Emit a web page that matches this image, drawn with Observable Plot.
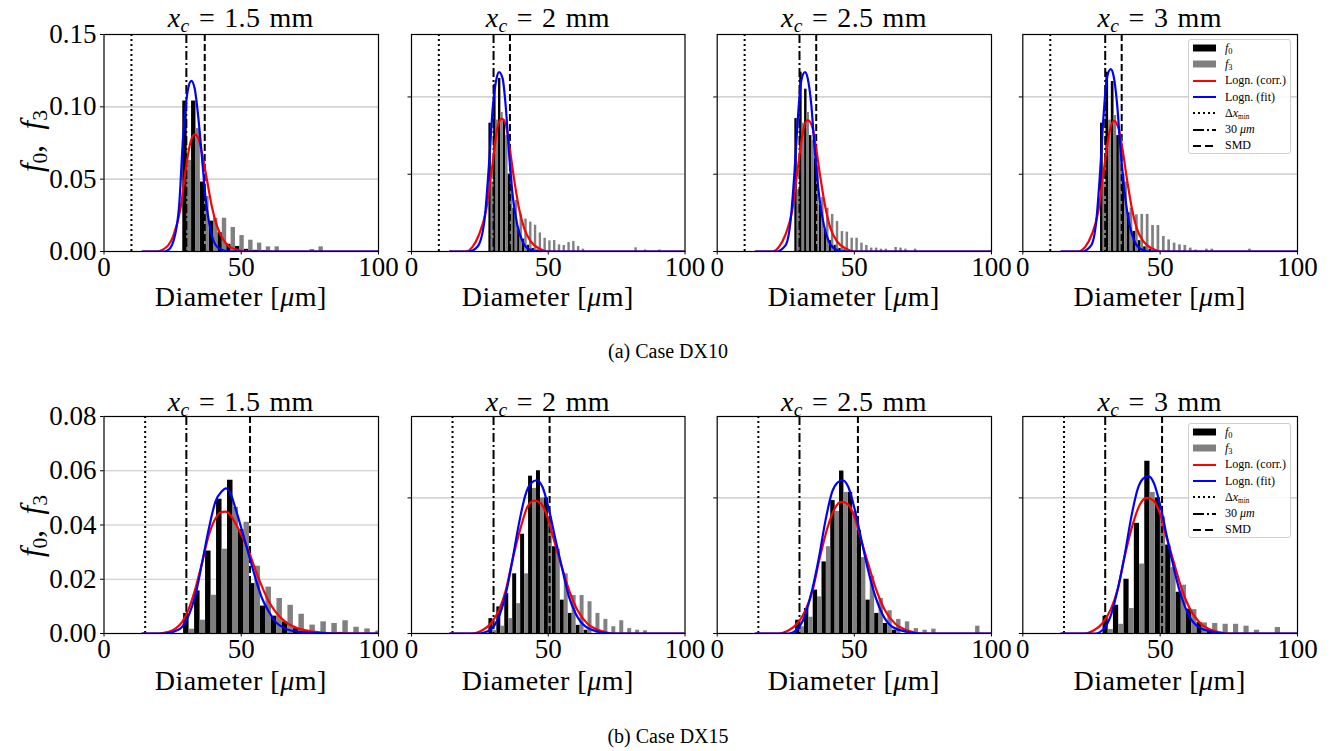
<!DOCTYPE html>
<html><head><meta charset="utf-8">
<script src="https://cdn.jsdelivr.net/npm/d3@7"></script>
<script src="https://cdn.jsdelivr.net/npm/@observablehq/plot@0.6"></script>
<style>
body{margin:0;background:#fff;}
#fig{position:relative;width:1336px;height:751px;overflow:hidden;background:#fff;font-family:"Liberation Serif","DejaVu Serif",serif;color:#000;}
.slice{position:absolute;overflow:visible;}
.slice svg{overflow:visible;display:block;}
.t{position:absolute;white-space:nowrap;line-height:0.85;transform:translateX(-50%);}
.t sub,.lg sub{font-size:0.7em;vertical-align:-0.25em;line-height:0;}
.ylab{position:absolute;white-space:nowrap;line-height:1;transform:translate(-50%,-50%) rotate(-90deg);font-size:31px;}
.ylab sub{font-size:0.7em;vertical-align:-0.25em;line-height:0;}
.lg{position:absolute;box-sizing:border-box;width:103px;height:115px;border:1px solid #cfcfcf;border-radius:3px;background:rgba(255,255,255,0.85);font-size:12px;padding-top:0px;}
.lg .row{display:flex;align-items:center;height:16.3px;}
.lg svg{margin-left:4px;flex:none;}
.lg span{margin-left:9px;white-space:nowrap;}
</style></head><body><div id="fig"></div>
<script>
// ---------------- data ----------------
const xcValues = ["1.5", "2", "2.5", "3"];
const caseCaptions = ["(a) Case DX10", "(b) Case DX15"];
const dxMin = [10, 15];            // Δx_min of each case [μm]
const cutoff = 30;                 // 30 μm line
const smdDX10 = [36.7, 36.0, 36.1, 36.0];
const smdDX15 = [53.2, 50.5, 51.3, 50.7];

// histogram bin widths and left edges (μm); f0 drawn in left half, f3 in right half
const binWidthDX10 = [3.2, 1.75, 1.78, 1.96];
const binWidthDX15 = [4.0, 2.9, 3.2, 3.8];
const binStartDX10 = [28.7, 28.3, 28.3, 28.3];
const binStartDX15 = [29.0, 28.3, 28.6, 29.2];

// Case DX10 histogram values
const f0DX10_1 = [0.104, 0.104, 0.048, 0.021, 0.013, 0.005, 0.0035, 0.0015, 0.0008, 0.0005];
const f3DX10_1 = [0.063, 0.085, 0.038, 0.023, 0.023, 0.0166, 0.011, 0.0078, 0.0058, 0.0032, 0.0032, 0, 0, 0, 0.0014, 0.0032];
const f0DX10_2 = [0.083, 0.108, 0.112, 0.085, 0.05, 0.028, 0.014, 0.008, 0.004, 0.002, 0.001];
const f3DX10_2 = [0.045, 0.085, 0.09, 0.075, 0.055, 0.033, 0.024, 0.021, 0.019, 0.017, 0.012, 0.0086, 0.0069, 0.0071, 0.0043, 0.0039, 0.0058, 0.0065, 0.0032, 0.0015, 0, 0, 0, 0, 0, 0, 0, 0, 0, 0, 0.0024, 0, 0.001, 0, 0, 0.001];
const f0DX10_3 = [0.086, 0.116, 0.105, 0.075, 0.06, 0.03, 0.014, 0.007, 0.004, 0.002, 0.001];
const f3DX10_3 = [0.04, 0.083, 0.09, 0.072, 0.055, 0.035, 0.028, 0.024, 0.0194, 0.0129, 0.0125, 0.0086, 0.0086, 0.0054, 0.0039, 0.0022, 0.0022, 0.0015, 0.0015, 0, 0.0026, 0.0022, 0.0015, 0, 0.0015];
const f0DX10_4 = [0.083, 0.116, 0.110, 0.075, 0.05, 0.025, 0.013, 0.007, 0.003, 0.0015, 0.001];
const f3DX10_4 = [0.045, 0.085, 0.088, 0.07, 0.045, 0.028, 0.0237, 0.024, 0.024, 0.0168, 0.0168, 0.0097, 0.0075, 0.0054, 0.0043, 0.0039, 0.0022, 0.001, 0, 0.0015, 0.0015, 0, 0, 0, 0, 0, 0, 0.0015];

// Case DX15 histogram values
const f0DX15_1 = [0.0074, 0.0157, 0.0304, 0.0495, 0.0565, 0.0383, 0.0184, 0.0101, 0.0064, 0.0043, 0.0018, 0.0008, 0.0004, 0.0002, 0.0004];
const f3DX15_1 = [0.0016, 0.0049, 0.0141, 0.0311, 0.0465, 0.041, 0.0248, 0.0171, 0.0129, 0.0104, 0.0071, 0.0031, 0.0043, 0.0037, 0.0047, 0.0023, 0.0017, 0.0009];
const f0DX15_2 = [0.0055, 0.0098, 0.0147, 0.022, 0.0366, 0.058, 0.060, 0.050, 0.032, 0.0123, 0.0074, 0.003, 0.0012];
const f3DX15_2 = [0.0012, 0.0027, 0.0055, 0.011, 0.022, 0.0535, 0.05, 0.043, 0.031, 0.022, 0.014, 0.014, 0.0117, 0.0074, 0.0052, 0.0025, 0.0047, 0.0018, 0.0012, 0.001];
const f0DX15_3 = [0.0049, 0.0092, 0.016, 0.0264, 0.049, 0.0599, 0.052, 0.038, 0.0123, 0.0074, 0.0037, 0.0012];
const f3DX15_3 = [0.0025, 0.006, 0.0135, 0.032, 0.045, 0.052, 0.045, 0.028, 0.021, 0.0129, 0.0084, 0.0052, 0.0043, 0.0018, 0.0012, 0.0016, 0, 0, 0, 0, 0.0027];
const f0DX15_4 = [0.0064, 0.0104, 0.020, 0.0406, 0.0635, 0.050, 0.0326, 0.0152, 0.009, 0.004, 0.0015, 0.0005];
const f3DX15_4 = [0.0015, 0.0034, 0.0092, 0.0256, 0.052, 0.043, 0.0243, 0.0178, 0.0088, 0.0039, 0.0037, 0.0034, 0.0034, 0.0027, 0.0012, 0, 0.0022];

// Lognormal curves (corr. = red, fit = blue)
const fitXDX10_1 = [14, 22, 23, 24.8, 27.3, 28.8, 30.5, 31.8, 33.0, 34.5, 35.8, 37.0, 38.2, 40.0, 42.4, 46, 100];
const fitYDX10_1 = [0, 0, 0.0005, 0.0046, 0.030, 0.0787, 0.111, 0.118, 0.113, 0.090, 0.0625, 0.037, 0.021, 0.007, 0.0016, 0, 0];
const corrXDX10_1 = [14, 19, 23, 25.4, 27.9, 29.7, 31.3, 33.0, 34.3, 35.8, 37.6, 39.4, 41.2, 43.1, 45.5, 48.5, 52, 100];
const corrYDX10_1 = [0, 0, 0.0035, 0.0116, 0.030, 0.0556, 0.074, 0.081, 0.0787, 0.067, 0.0486, 0.030, 0.0174, 0.0093, 0.0035, 0.0012, 0, 0];
const fitXDX10_2 = [14, 21, 24.1, 26.6, 28.4, 29.8, 31.1, 32.0, 33.3, 34.5, 35.7, 37.1, 38.7, 40.6, 43.0, 46.6, 100];
const fitYDX10_2 = [0, 0, 0.003, 0.019, 0.058, 0.095, 0.112, 0.116, 0.112, 0.093, 0.0625, 0.0345, 0.017, 0.0065, 0.0015, 0, 0];
const corrXDX10_2 = [14, 19.9, 22.3, 24.7, 27.2, 29.6, 31.4, 33.0, 34.5, 35.9, 37.5, 39.3, 41.2, 43.6, 46.6, 50.3, 100];
const corrYDX10_2 = [0, 0, 0.003, 0.011, 0.026, 0.056, 0.080, 0.086, 0.082, 0.067, 0.047, 0.028, 0.015, 0.0065, 0.002, 0, 0];
const fitXDX10_3 = [14, 21.5, 24.9, 26.7, 28.2, 29.4, 30.6, 32.0, 33.0, 34.3, 35.5, 37.1, 38.9, 40.7, 43.1, 46.2, 100];
const fitYDX10_3 = [0, 0, 0.004, 0.019, 0.052, 0.086, 0.110, 0.116, 0.112, 0.095, 0.067, 0.037, 0.017, 0.0065, 0.0015, 0, 0];
const corrXDX10_3 = [14, 20, 22.5, 24.9, 27.3, 29.4, 31.3, 33.0, 34.6, 36.2, 37.7, 39.5, 41.3, 43.7, 46.8, 50.4, 100];
const corrYDX10_3 = [0, 0, 0.003, 0.011, 0.026, 0.054, 0.078, 0.085, 0.081, 0.065, 0.047, 0.028, 0.015, 0.0065, 0.002, 0, 0];
const fitXDX10_4 = [14, 21.5, 24.9, 26.7, 28.2, 29.4, 30.6, 32.0, 33.0, 34.3, 35.5, 37.1, 38.9, 40.7, 43.1, 46.2, 100];
const fitYDX10_4 = [0, 0, 0.004, 0.019, 0.053, 0.088, 0.112, 0.118, 0.114, 0.096, 0.068, 0.038, 0.017, 0.0065, 0.0015, 0, 0];
const corrXDX10_4 = [14, 20, 22.7, 25.1, 27.5, 29.6, 31.5, 33.2, 34.8, 36.4, 37.9, 39.7, 41.5, 43.9, 47.0, 50.6, 100];
const corrYDX10_4 = [0, 0, 0.003, 0.011, 0.026, 0.054, 0.077, 0.0845, 0.080, 0.065, 0.047, 0.028, 0.015, 0.0065, 0.002, 0, 0];

const fitXDX15_1 = [14, 22, 26.0, 28.5, 30.9, 33.3, 35.8, 38.2, 40.6, 43.0, 44.3, 46.1, 47.9, 50.4, 52.8, 55.2, 57.6, 60.1, 62.5, 66.1, 71, 77, 85, 100];
const fitYDX15_1 = [0, 0, 0.0009, 0.0025, 0.0068, 0.0141, 0.0264, 0.0387, 0.0486, 0.0525, 0.0535, 0.0516, 0.0461, 0.0375, 0.0289, 0.0203, 0.0129, 0.008, 0.0043, 0.0018, 0.0006, 0.0002, 0, 0];
const corrXDX15_1 = [14, 20, 23, 26.0, 28.5, 30.9, 33.3, 35.8, 38.2, 40.6, 42.4, 44.3, 46.1, 47.9, 50.4, 52.8, 55.2, 57.6, 60.1, 62.5, 66.1, 71, 77, 83, 100];
const corrYDX15_1 = [0, 0, 0.0005, 0.0018, 0.0043, 0.0092, 0.0166, 0.0264, 0.0363, 0.0424, 0.0446, 0.0449, 0.0436, 0.0406, 0.0357, 0.0301, 0.0234, 0.0172, 0.0117, 0.008, 0.0043, 0.0018, 0.0006, 0.0001, 0];
const fitXDX15_2 = [14, 24, 25.9, 29.0, 31.4, 34.5, 36.9, 39.3, 41.8, 43.6, 45.7, 47.9, 50.3, 52.7, 55.2, 57.6, 60.0, 63.7, 68.6, 73.4, 100];
const fitYDX15_2 = [0, 0, 0.0002, 0.0015, 0.0049, 0.0147, 0.027, 0.0406, 0.0516, 0.0553, 0.0565, 0.054, 0.0455, 0.0344, 0.0234, 0.0135, 0.0074, 0.0025, 0.0006, 0, 0];
const corrXDX15_2 = [14, 22.3, 25.9, 29.0, 32.0, 34.5, 36.9, 40.0, 42.4, 44.8, 47.3, 49.7, 52.1, 54.6, 57.6, 60.7, 64.3, 68.6, 74.7, 100];
const corrYDX15_2 = [0, 0, 0.0012, 0.0037, 0.0086, 0.016, 0.027, 0.0393, 0.0467, 0.049, 0.048, 0.043, 0.0344, 0.0258, 0.016, 0.0086, 0.0037, 0.0012, 0, 0];
const fitXDX15_3 = [14, 24, 26.1, 29.4, 31.8, 34.6, 37.1, 39.5, 41.9, 43.7, 45.7, 47.8, 50.2, 52.6, 55.0, 57.7, 60.1, 63.8, 69.3, 74.1, 100];
const fitYDX15_3 = [0, 0, 0, 0.0018, 0.0061, 0.016, 0.028, 0.0418, 0.0522, 0.0555, 0.0565, 0.054, 0.0455, 0.0344, 0.0234, 0.0135, 0.0074, 0.0025, 0.0006, 0, 0];
const corrXDX15_3 = [14, 22.5, 26.1, 29.2, 32.2, 34.8, 37.2, 40.3, 42.8, 45.3, 47.8, 50.2, 52.6, 55.1, 58.1, 61.2, 64.8, 69.1, 75.2, 100];
const corrYDX15_3 = [0, 0, 0.0012, 0.0037, 0.0086, 0.016, 0.027, 0.0393, 0.046, 0.0485, 0.0475, 0.0425, 0.034, 0.0255, 0.0158, 0.0085, 0.0037, 0.0012, 0, 0];
const fitXDX15_4 = [14, 24, 26.3, 29.5, 31.9, 34.6, 37.1, 39.5, 41.9, 43.7, 45.7, 47.7, 50.1, 52.5, 55.0, 57.6, 60.0, 63.6, 69, 74, 100];
const fitYDX15_4 = [0, 0, 0, 0.0018, 0.0062, 0.0165, 0.029, 0.043, 0.0535, 0.057, 0.058, 0.0555, 0.047, 0.0355, 0.024, 0.014, 0.0076, 0.0026, 0.0006, 0, 0];
const corrXDX15_4 = [14, 22.5, 25.9, 29.0, 32.0, 34.6, 37.0, 40.1, 42.6, 45.1, 47.6, 50.0, 52.4, 54.9, 57.9, 61.0, 64.6, 68.9, 75, 100];
const corrYDX15_4 = [0, 0, 0.0012, 0.0038, 0.0089, 0.0165, 0.028, 0.0405, 0.0475, 0.050, 0.049, 0.044, 0.0352, 0.0265, 0.0163, 0.0088, 0.0038, 0.0012, 0, 0];

// axes
const xTicks = [0, 50, 100];
const yTicksDX10 = [[0, 0.05, 0.10, 0.15], [0, 0.05, 0.10], [0, 0.05, 0.10], [0, 0.05, 0.10]];
const yMaxDX10 = [0.15, 0.1404, 0.1404, 0.1404];
const yTicksDX15 = [[0, 0.02, 0.04, 0.06, 0.08], [0, 0.05], [0, 0.05], [0, 0.05]];
const yMaxDX15 = [0.08, 0.08, 0.08, 0.08];

// ---------------- layout ----------------
const FONT = '"Liberation Serif","DejaVu Serif",serif';
const slices = [ // image slice of each column: left, width, frame margins
  {left: 0, width: 397, ml: 103.5, mr: 19},
  {left: 397, width: 305, ml: 14, mr: 17.5},
  {left: 702, width: 306, ml: 14.7, mr: 17},
  {left: 1008, width: 328, ml: 14.3, mr: 39}
];
const MT = 20, MB = 37, FRAME_H = 217;
const SVG_H = MT + FRAME_H + MB;
const rowTop = [33.5 - MT, 416 - MT];

const rows = [
  {f0: [f0DX10_1, f0DX10_2, f0DX10_3, f0DX10_4], f3: [f3DX10_1, f3DX10_2, f3DX10_3, f3DX10_4],
   w: binWidthDX10, start: binStartDX10, smd: smdDX10, dx: dxMin[0], yTicks: yTicksDX10, yMax: yMaxDX10,
   fitX: [fitXDX10_1, fitXDX10_2, fitXDX10_3, fitXDX10_4], fitY: [fitYDX10_1, fitYDX10_2, fitYDX10_3, fitYDX10_4],
   corrX: [corrXDX10_1, corrXDX10_2, corrXDX10_3, corrXDX10_4], corrY: [corrYDX10_1, corrYDX10_2, corrYDX10_3, corrYDX10_4]},
  {f0: [f0DX15_1, f0DX15_2, f0DX15_3, f0DX15_4], f3: [f3DX15_1, f3DX15_2, f3DX15_3, f3DX15_4],
   w: binWidthDX15, start: binStartDX15, smd: smdDX15, dx: dxMin[1], yTicks: yTicksDX15, yMax: yMaxDX15,
   fitX: [fitXDX15_1, fitXDX15_2, fitXDX15_3, fitXDX15_4], fitY: [fitYDX15_1, fitYDX15_2, fitYDX15_3, fitYDX15_4],
   corrX: [corrXDX15_1, corrXDX15_2, corrXDX15_3, corrXDX15_4], corrY: [corrYDX15_1, corrYDX15_2, corrYDX15_3, corrYDX15_4]}
];

const fig = document.getElementById("fig");

function addText(html, cx, baseline, size, extraStyle = "") {
  const d = document.createElement("div");
  d.className = "t";
  d.innerHTML = html;
  d.style.cssText = extraStyle;
  d.style.fontSize = size + "px";
  d.style.left = cx + "px";
  d.style.top = (baseline - 0.7625 * size) + "px";
  fig.appendChild(d);
  return d;
}

rows.forEach((R, r) => {
  for (let c = 0; c < 4; c++) {
    const S = slices[c];
    const w = R.w[c], st = R.start[c];
    const n = Math.max(R.f0[c].length, R.f3[c].length);
    const bins = d3.range(n).map(i => st + i * w);
    const black = bins.map((e, i) => ({x1: e, x2: e + w / 2, v: R.f0[c][i] || 0})).filter(d => d.v > 0);
    const gray = bins.map((e, i) => ({x1: e + w / 2, x2: e + w, v: R.f3[c][i] || 0})).filter(d => d.v > 0);
    const fit = R.fitX[c].map((x, i) => ({x, y: R.fitY[c][i]}));
    const corr = R.corrX[c].map((x, i) => ({x, y: R.corrY[c][i]}));
    const ticks = R.yTicks[c];
    const svg = Plot.plot({
      width: S.width, height: SVG_H,
      marginTop: MT, marginBottom: MB, marginLeft: S.ml, marginRight: S.mr,
      style: {fontFamily: FONT, fontSize: "27px", background: "transparent", color: "#000", overflow: "visible"},
      x: {domain: [0, 100]},
      y: {domain: [0, R.yMax[c]]},
      marks: [
        Plot.ruleY(ticks.slice(1), {stroke: "#c4c4c4", strokeWidth: 1.2}),
        Plot.rect(black, {x1: "x1", x2: "x2", y1: () => 0, y2: "v", fill: "#000", clip: true}),
        Plot.rect(gray, {x1: "x1", x2: "x2", y1: () => 0, y2: "v", fill: "#808080", clip: true}),
        Plot.ruleX([R.dx], {stroke: "#000", strokeWidth: 2, strokeDasharray: "2,3"}),
        Plot.ruleX([cutoff], {stroke: "#000", strokeWidth: 2, strokeDasharray: "9,3,2,3"}),
        Plot.ruleX([R.smd[c]], {stroke: "#000", strokeWidth: 2, strokeDasharray: "7,3"}),
        Plot.line(corr, {x: "x", y: "y", stroke: "#ff0000", strokeWidth: 2.2, curve: "monotone-x", clip: true}),
        Plot.line(fit, {x: "x", y: "y", stroke: "#0000ff", strokeWidth: 2.2, curve: "monotone-x", clip: true}),
        Plot.frame({stroke: "#000", strokeWidth: 1.2}),
        Plot.axisX({ticks: xTicks, tickSize: 3.5, tickPadding: 2, label: null, fontSize: 27, tickFormat: d => String(d)}),
        Plot.axisY({ticks, tickSize: 3.5, tickPadding: 4, label: null, fontSize: 27,
                    tickFormat: c === 0 ? d3.format(".2f") : () => ""})
      ]
    });
    const holder = document.createElement("div");
    holder.className = "slice";
    holder.style.left = S.left + "px";
    holder.style.top = rowTop[r] + "px";
    holder.style.width = S.width + "px";
    holder.style.height = SVG_H + "px";
    holder.appendChild(svg);
    fig.appendChild(holder);

    const frameL = S.left + S.ml, frameR = S.left + S.width - S.mr;
    const cx = (frameL + frameR) / 2;
    addText(`<i>x</i><sub><i>c</i></sub> = ${xcValues[c]} mm`, cx, r === 0 ? 27 : 411, 28, "word-spacing:2px;letter-spacing:0.3px;");
    addText(`Diameter [<i>μ</i>m]`, cx, r === 0 ? 306 : 690, 28, "letter-spacing:0.5px;");
  }
  const yl = document.createElement("div");
  yl.className = "ylab";
  yl.innerHTML = `<i>f</i><sub>0</sub>,&nbsp;&nbsp;<i>f</i><sub>3</sub>`;
  yl.style.left = "31px";
  yl.style.top = (r === 0 ? 141 : 526) + "px";
  fig.appendChild(yl);
  addText(caseCaptions[r], 668, r === 0 ? 358 : 743, 20);

  // legend (last panel of each row)
  const lg = document.createElement("div");
  lg.className = "lg";
  lg.style.left = "1188px";
  lg.style.top = (r === 0 ? 39 : 423) + "px";
  const sw = [
    `<rect x="0" y="1.5" width="23" height="7" fill="#000"/>`,
    `<rect x="0" y="1.5" width="23" height="7" fill="#808080"/>`,
    `<line x1="0" x2="23" y1="5" y2="5" stroke="#ff0000" stroke-width="2"/>`,
    `<line x1="0" x2="23" y1="5" y2="5" stroke="#0000ff" stroke-width="2"/>`,
    `<line x1="0" x2="23" y1="5" y2="5" stroke="#000" stroke-width="2" stroke-dasharray="2,3"/>`,
    `<line x1="0" x2="23" y1="5" y2="5" stroke="#000" stroke-width="2" stroke-dasharray="11,3,2,3"/>`,
    `<line x1="0" x2="23" y1="5" y2="5" stroke="#000" stroke-width="2" stroke-dasharray="8,4"/>`
  ];
  const labels = [`<i>f</i><sub>0</sub>`, `<i>f</i><sub>3</sub>`, `Logn. (corr.)`, `Logn. (fit)`,
                  `Δ<i>x</i><sub style="font-size:0.6em">min</sub>`, `30 <i>μm</i>`, `SMD`];
  lg.innerHTML = labels.map((l, i) =>
    `<div class="row"><svg width="23" height="10">${sw[i]}</svg><span>${l}</span></div>`).join("");
  fig.appendChild(lg);
});
</script></body></html>
